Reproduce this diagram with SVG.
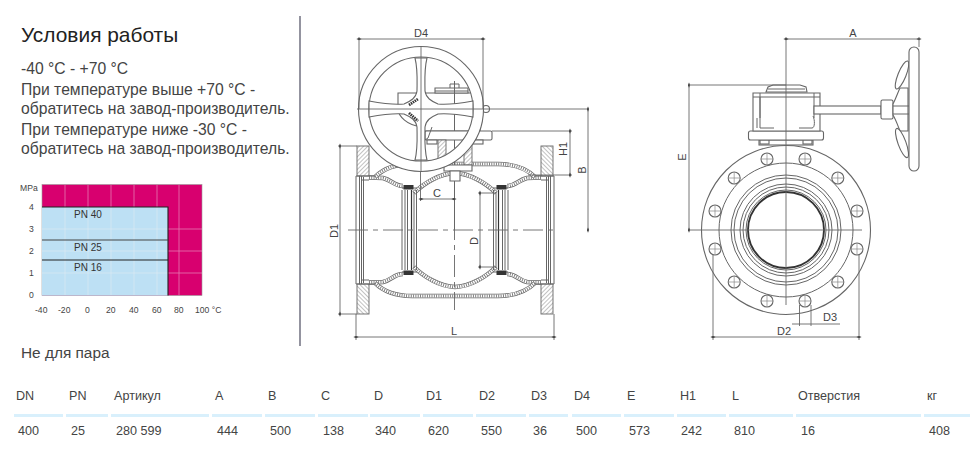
<svg xmlns="http://www.w3.org/2000/svg" xmlns:xlink="http://www.w3.org/1999/xlink" width="970" height="451" viewBox="0 0 970 451">
<style>
text{font-family:"Liberation Sans",Arial,sans-serif;fill:#444}
.t{font-size:15.7px;fill:#444}
.h{font-size:20.9px;fill:#222}
.c{font-size:8.6px;fill:#444}
.p{font-size:10px;fill:#333}
.d{font-size:11px;fill:#444;text-anchor:middle}
.n{font-size:12.6px;fill:#444}
.s{fill:none;stroke:#666;stroke-width:1}
.w{fill:#fff;stroke:#666;stroke-width:1.1}
.k{fill:none;stroke:#333;stroke-width:1.9}
.dim{fill:none;stroke:#666;stroke-width:.9}
.ar{marker-start:url(#a);marker-end:url(#a)}
.g{stroke:#f2f2f2;stroke-width:.8;opacity:.5}
.b{fill:#d9f0fc}
.x1{fill:none;stroke:#666;stroke-width:4.400}
.x2{fill:none;stroke:#fff;stroke-width:3}
.x3{fill:none;stroke:#777;stroke-width:3;stroke-dasharray:.9 1.400}
</style>
<defs>
<marker id="a" viewBox="-4 -2 8 4" markerWidth="6" markerHeight="3" markerUnits="userSpaceOnUse" orient="auto"><path d="M-3.500 0 L0 -1.500 L3.500 0 L0 1.500Z" fill="#444"/></marker>
<pattern id="h" width="3" height="3" patternUnits="userSpaceOnUse" patternTransform="rotate(-45)"><rect width="3" height="3" fill="#fff"/><path d="M0 0H3" stroke="#777" stroke-width=".9"/></pattern>
<path id="pipe" d="M369 177.500 L383 178 C392 180 394 186 403 186"/>
<path id="outer" d="M375 177 C384 168 396 164 412 164 L455 164"/>
<path id="ball" d="M414 193 C424 183 440 173.500 455 173"/>
<g id="q">
<rect x="357" y="146" width="12" height="30" fill="url(#h)" stroke="#666" stroke-width=".9"/>
<use xlink:href="#pipe" class="x1"/><use xlink:href="#pipe" class="x2"/><use xlink:href="#pipe" class="x3"/>
<use xlink:href="#outer" class="x1"/><use xlink:href="#outer" class="x2"/><use xlink:href="#outer" class="x3"/>
<use xlink:href="#ball" class="x1"/><use xlink:href="#ball" class="x2"/><use xlink:href="#ball" class="x3"/>
<path class="s" d="M356 230V176H376M359.500 176V230M361.500 176V230M363.500 177V230M362 180H369"/>
<path class="s" d="M402 190V230M405 190V230M407.500 190V230M414 192V230M416.500 190V230M402 188H417"/>
<path d="M411.500 190V230" fill="none" stroke="#333" stroke-width="1.200"/>
<rect x="403.500" y="185" width="10" height="4.500" fill="#333"/>
</g>
<g id="hole"><circle r="6" class="w"/><path d="M-6 0H6M0 -6V6" stroke="#888" stroke-width=".7"/></g>
</defs>

<rect width="970" height="451" fill="#fff"/>

<g id="conditions">
<text x="21" y="42" class="h">Условия работы</text>
<text x="21" y="74" class="t">-40 °C - +70 °C</text>
<text x="21" y="95" class="t">При температуре выше +70 °C -</text>
<text x="21" y="114" class="t">обратитесь на завод-производитель.</text>
<text x="21" y="135" class="t">При температуре ниже -30 °C -</text>
<text x="21" y="154" class="t">обратитесь на завод-производитель.</text>
<text x="21" y="358" class="t" style="font-size:15.400px">Не для пара</text>
</g>
<path id="divider" d="M300 16V346" stroke="#667" stroke-width="1.400"/>

<g id="chart">
<rect x="42" y="184.500" width="160" height="111" fill="#d8006f" stroke="#999" stroke-width=".6"/>
<rect x="42" y="207" width="126" height="88.500" fill="#bde0f4"/>
<path class="g" d="M65 185V295M88 185V295M111 185V295M134 185V295M157 185V295M179 185V295M42 229H202M42 251H202M42 273H202"/>
<path d="M42 207H168V295.500" fill="none" stroke="#222" stroke-width="1.100"/>
<path d="M42 240H168" stroke="#444" stroke-width="1.200"/>
<path d="M42 260H168" stroke="#222" stroke-width="1.100"/>
<text x="74" y="218" class="p">PN 40</text>
<text x="74" y="251" class="p">PN 25</text>
<text x="74" y="271" class="p">PN 16</text>
<text x="20" y="191" class="c">MPa</text>
<text x="29" y="210" class="c">4</text><text x="29" y="232" class="c">3</text><text x="29" y="254" class="c">2</text><text x="29" y="276" class="c">1</text><text x="29" y="298" class="c">0</text>
<text x="35" y="313" class="c">-40</text><text x="58" y="313" class="c">-20</text><text x="85" y="313" class="c">0</text><text x="106" y="313" class="c">20</text><text x="129" y="313" class="c">40</text><text x="152" y="313" class="c">60</text><text x="174" y="313" class="c">80</text><text x="195" y="313" class="c">100 °C</text>
</g>

<g id="side-view">
<use xlink:href="#q"/>
<use xlink:href="#q" transform="translate(910 0) scale(-1 1)"/>
<use xlink:href="#q" transform="translate(0 460) scale(1 -1)"/>
<use xlink:href="#q" transform="translate(910 460) scale(-1 -1)"/>
<!-- gearbox behind wheel -->
<path class="w" d="M398 109V93H480V131H425L420 126C408 126 398 116 398 109Z"/>
<path class="w" d="M435 93V88H468V93Z"/>
<path class="s" d="M450 88V84H459V88M454.500 81V230M435 91H468"/>
<circle cx="486" cy="109" r="3.500" class="w"/>
<rect x="425" y="131" width="67" height="9" rx="1.500" class="w"/>
<rect x="427" y="140" width="10" height="4" class="w"/><rect x="473" y="140" width="10" height="4" class="w"/>
<rect x="438" y="140" width="8" height="25" fill="url(#h)" stroke="#666" stroke-width=".9"/>
<rect x="464" y="140" width="8" height="25" fill="url(#h)" stroke="#666" stroke-width=".9"/>
<path class="w" d="M444 165H472V171H444Z"/>
<path class="w" d="M450 171H460V181H450Z"/>
<!-- handwheel -->
<path fill="#fff" fill-rule="evenodd" stroke="#666" stroke-width="1.100" d="M358.500 109a62.500 62.500 0 1 0 125 0a62.500 62.500 0 1 0-125 0ZM369 109a52 52 0 1 1 104 0a52 52 0 1 1-104 0Z"/>
<path class="w" d="M415 58C418 70 417 82 417 91C416 98 411 101 404 104C395 105 380 103 369 101L369 117C380 115 395 113 404 114C411 117 416 120 417 127C417 136 418 148 415 160L427 160C424 148 425 136 425 127C426 120 431 117 438 114C447 113 462 115 473 117L473 101C462 103 447 105 438 104C431 101 426 98 425 91C425 82 424 70 427 58Z"/>
<path d="M409 105L418 99M409 113L418 121" stroke="#333" stroke-width="2.800" stroke-dasharray="1.500 .8" fill="none"/>
<path class="s" d="M432 127L428 138L425 140"/>
<path class="dim" d="M357 109H588"/>
<path class="dim" d="M421 46V172"/>
<path class="dim" d="M454.500 181V310" stroke-dasharray="22 5 5 5"/>
<path class="dim" d="M348 230H556" stroke-dasharray="20 5 5 5"/>
</g>

<g id="end-view">
<circle cx="786" cy="230" r="84.500" class="w"/>
<circle cx="786" cy="230" r="67" class="s"/>
<circle cx="786" cy="230" r="55" class="s"/>
<circle cx="786" cy="230" r="52" class="s"/>
<circle cx="786" cy="230" r="46" class="s"/>
<circle cx="786" cy="230" r="43" class="s"/>
<circle cx="786" cy="230" r="40" class="s"/>
<circle cx="786" cy="230" r="38" fill="#fff" class="k"/>
<use xlink:href="#hole" x="767" y="301"/><use xlink:href="#hole" x="805" y="301"/>
<use xlink:href="#hole" x="734.200" y="282"/><use xlink:href="#hole" x="837.800" y="282"/>
<use xlink:href="#hole" x="715" y="249"/><use xlink:href="#hole" x="857" y="249"/>
<use xlink:href="#hole" x="715" y="211"/><use xlink:href="#hole" x="857" y="211"/>
<use xlink:href="#hole" x="734.200" y="178"/><use xlink:href="#hole" x="837.800" y="178"/>
<use xlink:href="#hole" x="767" y="159"/><use xlink:href="#hole" x="805" y="159"/>
<!-- gearbox -->
<rect x="759" y="140" width="54" height="5" class="w"/>
<rect x="760" y="140" width="9" height="4" class="w"/><rect x="803" y="140" width="9" height="4" class="w"/>
<rect x="748.500" y="131" width="75" height="9" rx="2" class="w"/>
<path class="w" d="M753 131V93H820V131Z"/>
<path class="s" d="M753 97H820M760 93V118M814 93V118M760 97V128H774M799 128H812C815 128 815 120 813 116M757 118V128"/>
<path class="w" d="M766 92L768 87L773 85H800L806 87L807 92Z"/>
<path class="s" d="M768 89H805"/>
<!-- shaft and wheel -->
<rect x="814" y="106" width="67" height="8" class="w"/>
<rect x="881" y="100" width="12" height="19" rx="1.500" class="w"/>
<path class="w" d="M893 104C896 98 898 92 900 88L908 88V131L900 131C898 126 896 120 893 115Z"/>
<path class="s" d="M893 106H909M893 114H909"/>
<ellipse cx="902" cy="75" rx="4" ry="15" transform="rotate(22 902 75)" class="w"/>
<ellipse cx="902" cy="143" rx="4" ry="15.500" transform="rotate(-20 902 143)" class="w"/>
<rect x="909" y="47" width="10" height="124" rx="5" class="w"/>
<path class="dim" d="M786 37V305M690 230H862"/>
</g>

<g id="dimensions">
<path class="dim" d="M359 37V109M483 37V109"/>
<path class="dim ar" d="M359 39H483"/>
<text x="421" y="37" class="d">D4</text>
<path class="dim" d="M338 146H357M338 314H357"/>
<path class="dim ar" d="M340 146V314"/>
<text class="d" transform="translate(338 231) rotate(-90)">D1</text>
<path class="dim" d="M356 314V340M554 314V340"/>
<path class="dim ar" d="M356 337H554"/>
<text x="454" y="335" class="d">L</text>
<path class="dim ar" d="M588 109V230"/>
<text class="d" transform="translate(586 170) rotate(-90)">B</text>
<path class="dim" d="M492 131H572M528 175H572"/>
<path class="dim ar" d="M570 131V175"/>
<text class="d" transform="translate(567 149) rotate(-90)">H1</text>
<path class="dim" d="M420.500 172V201"/>
<path class="dim ar" d="M421 199H454"/>
<text x="437" y="197" class="d">C</text>
<path class="dim" d="M478 193H496M478 267H496"/>
<path class="dim ar" d="M480 193V267"/>
<text class="d" transform="translate(478 241) rotate(-90)">D</text>
<path class="dim ar" d="M786 39H919"/>
<path class="dim" d="M919 37V47M690 85H786"/>
<text x="853" y="37" class="d">A</text>
<path class="dim ar" d="M689 85V230"/>
<text class="d" transform="translate(686 157) rotate(-90)">E</text>
<path class="dim" d="M713 255V340M859 255V340"/>
<path class="dim ar" d="M713 337H859"/>
<text x="784" y="335" class="d">D2</text>
<path class="dim" d="M799.500 305V326M811 305V326M792 324H840"/>
<text x="830" y="321" class="d">D3</text>
</g>

<g id="table">
<rect class="b" x="14" y="414" width="49" height="3"/><rect class="b" x="66" y="414" width="42" height="3"/><rect class="b" x="111" y="414" width="98" height="3"/><rect class="b" x="212" y="414" width="50" height="3"/><rect class="b" x="265" y="414" width="50" height="3"/><rect class="b" x="318" y="414" width="50" height="3"/><rect class="b" x="370" y="414" width="50" height="3"/><rect class="b" x="423" y="414" width="50" height="3"/><rect class="b" x="476" y="414" width="50" height="3"/><rect class="b" x="529" y="414" width="39" height="3"/><rect class="b" x="572" y="414" width="49" height="3"/><rect class="b" x="624" y="414" width="50" height="3"/><rect class="b" x="677" y="414" width="49" height="3"/><rect class="b" x="729" y="414" width="64" height="3"/><rect class="b" x="796" y="414" width="125" height="3"/><rect class="b" x="924" y="414" width="46" height="3"/>
<text class="n" x="16" y="400">DN</text><text class="n" x="69" y="400">PN</text><text class="n" x="114" y="400">Артикул</text><text class="n" x="215" y="400">A</text><text class="n" x="268" y="400">B</text><text class="n" x="321" y="400">C</text><text class="n" x="374" y="400">D</text><text class="n" x="426" y="400">D1</text><text class="n" x="479" y="400">D2</text><text class="n" x="531" y="400">D3</text><text class="n" x="574" y="400">D4</text><text class="n" x="627" y="400">E</text><text class="n" x="680" y="400">H1</text><text class="n" x="732" y="400">L</text><text class="n" x="798" y="400">Отверстия</text><text class="n" x="927" y="400">кг</text>
<text class="n" x="18" y="435">400</text><text class="n" x="71" y="435">25</text><text class="n" x="116" y="435">280 599</text><text class="n" x="217" y="435">444</text><text class="n" x="270" y="435">500</text><text class="n" x="323" y="435">138</text><text class="n" x="375" y="435">340</text><text class="n" x="428" y="435">620</text><text class="n" x="481" y="435">550</text><text class="n" x="533" y="435">36</text><text class="n" x="576" y="435">500</text><text class="n" x="629" y="435">573</text><text class="n" x="681" y="435">242</text><text class="n" x="734" y="435">810</text><text class="n" x="801" y="435">16</text><text class="n" x="929" y="435">408</text>
</g>
</svg>
